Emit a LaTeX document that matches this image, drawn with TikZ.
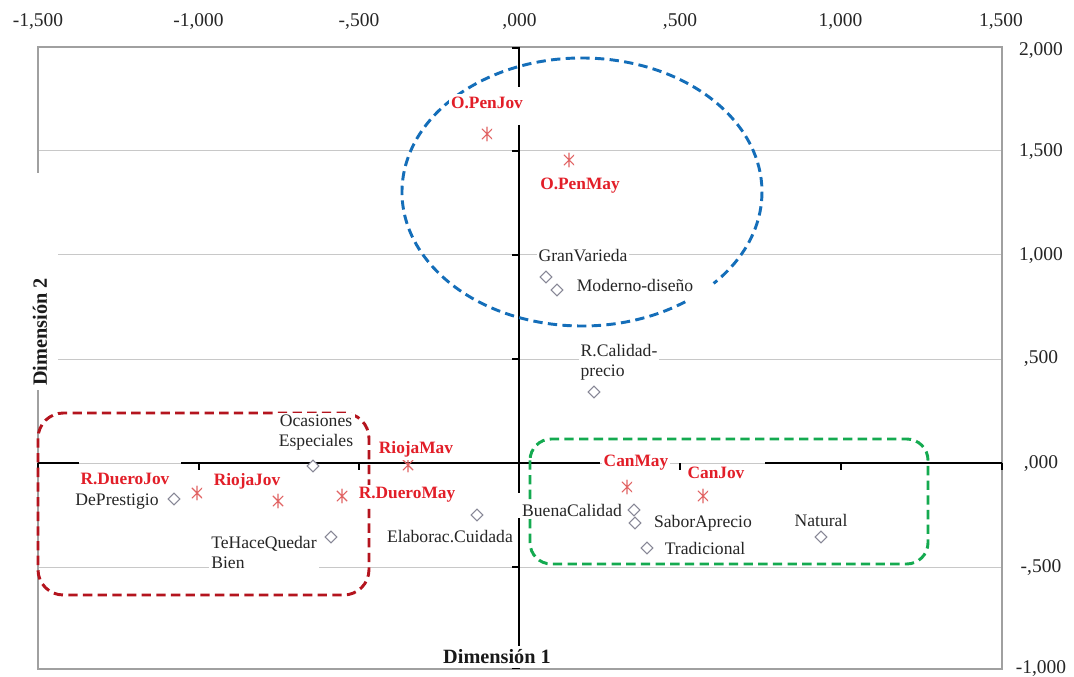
\documentclass[tikz,border=0pt]{standalone}
\usepackage{fontspec}
\setmainfont{Liberation Serif}
\usetikzlibrary{shapes.geometric}

\definecolor{gridgray}{RGB}{200,200,200}
\definecolor{framegray}{RGB}{160,160,160}
\definecolor{lblred}{RGB}{226,30,40}
\definecolor{starred}{RGB}{225,100,100}
\definecolor{diagray}{RGB}{135,135,150}
\definecolor{grpblue}{RGB}{20,110,185}
\definecolor{grpred}{RGB}{180,20,30}
\definecolor{grpgreen}{RGB}{20,170,80}

\tikzset{
  gridline/.style={draw=gridgray, line width=0.75pt},
  framebox/.style={draw=framegray, line width=1pt},
  axisline/.style={draw=black, line width=2pt},
  tickmark/.style={draw=black, line width=1.5pt},
  ticklbl/.style={font=\fontsize{14.6}{16}\selectfont, text=black!85, inner sep=0pt},
  lbl/.style={font=\fontsize{13.2}{15}\selectfont, text=black!85, fill=white,
              inner xsep=1.5pt, inner ysep=2pt},
  rlbl/.style={lbl, font=\fontsize{13}{15}\selectfont\bfseries, text=lblred},
  dimlbl/.style={font=\fontsize{15.2}{17}\selectfont\bfseries, text=black!90, fill=white,
                 inner xsep=2pt, inner ysep=3pt},
  grp/.style={line width=2.2pt, dash pattern=on 7pt off 4pt},
  starm/.style={circle, minimum size=11pt, inner sep=0pt,
    path picture={
      \draw[starred, line width=0.8pt]
        (path picture bounding box.north) -- (path picture bounding box.south)
        (path picture bounding box.north west) -- (path picture bounding box.south east)
        (path picture bounding box.north east) -- (path picture bounding box.south west);
    }},
  diam/.style={diamond, draw=diagray, line width=0.8pt, fill=white,
               minimum size=9pt, inner sep=0pt},
}

\begin{document}
\begin{tikzpicture}[x=0.75pt, y=-0.75pt]
  \useasboundingbox (0,0) rectangle (1074,677);
  \fill[white] (0,0) rectangle (1074,677);

  % horizontal grid lines and plot frame
  \foreach \yy in {151,255,359,463,567}
    \draw[gridline] (38,\yy) -- (1002,\yy);
  \draw[framebox] (38,47) rectangle (1002,669);

  % axes through the origin, broken where data labels sit on them
  \draw[axisline] (38,463) -- (79,463) (181,463) -- (600,463) (765,463) -- (1002,463);
  \draw[axisline] (519,47) -- (519,87) (519,125) -- (519,493) (519,518) -- (519,669);
  \foreach \xx in {38,198.5,359,680,840.5,1002}
    \draw[tickmark] (\xx,463) -- (\xx,470);
  \foreach \yy in {48,151,255,359,567,668}
    \draw[tickmark] (512,\yy) -- (519,\yy);

  % tick labels
  \node[ticklbl] (tx1) at (38,22) {-1,500};
  \node[ticklbl] (tx2) at (198.5,22) {-1,000};
  \node[ticklbl] (tx3) at (359,22) {-,500};
  \node[ticklbl] (tx4) at (519.5,22) {,000};
  \node[ticklbl] (tx5) at (680,22) {,500};
  \node[ticklbl] (tx6) at (840.5,22) {1,000};
  \node[ticklbl] (tx7) at (1001,22) {1,500};
  \node[ticklbl] (ty1) at (1041,51) {2,000};
  \node[ticklbl] (ty2) at (1041,152) {1,500};
  \node[ticklbl] (ty3) at (1041,256) {1,000};
  \node[ticklbl] (ty4) at (1041,359) {,500};
  \node[ticklbl] (ty5) at (1041,464) {,000};
  \node[ticklbl] (ty6) at (1041,568) {-,500};
  \node[ticklbl] (ty7) at (1041,669) {-1,000};

  % group outlines (the ellipse is left open at its lower right)
  \draw[grp, grpblue] (582,192) ++(55:180 and 134)
    arc[start angle=55, end angle=403, x radius=180, y radius=134];
  \draw[grp, grpred, rounded corners=19pt] (38,413) rectangle (369,595);
  \draw[grp, grpgreen, rounded corners=16pt] (530,439) rectangle (928,564);

  % segment points
  \node[starm] (s-openjov) at (487,134) {};
  \node[starm] (s-openmay) at (569,160) {};
  \node[starm] (s-riojamay) at (408,465) {};
  \node[starm] (s-rduerojov) at (197,493) {};
  \node[starm] (s-riojajov) at (278,501) {};
  \node[starm] (s-rdueromay) at (342,496) {};
  \node[starm] (s-canmay) at (627,487) {};
  \node[starm] (s-canjov) at (703,496) {};

  % attribute points
  \node[diam] (d-granvar) at (546,277) {};
  \node[diam] (d-moderno) at (557,290) {};
  \node[diam] (d-rcalidad) at (594,392) {};
  \node[diam] (d-ocasiones) at (313,466) {};
  \node[diam] (d-deprestigio) at (174,499) {};
  \node[diam] (d-tehace) at (331,537) {};
  \node[diam] (d-elaborac) at (477,515) {};
  \node[diam] (d-buena) at (634,510) {};
  \node[diam] (d-sabor) at (635,523) {};
  \node[diam] (d-tradicional) at (647,548) {};
  \node[diam] (d-natural) at (821,537) {};

  % attribute labels
  \node[lbl] (l-granvar) at (583,256) {GranVarieda};
  \node[lbl] (l-moderno) at (635,285) {Moderno-diseño};
  \node[lbl, align=left] (l-rcalidad) at (619,362) {R.Calidad-\\precio};
  \node[lbl, align=center] (l-ocasiones) at (316,433) {Ocasiones\\Especiales};
  \node[lbl] (l-deprestigio) at (117,502) {DePrestigio};
  \node[lbl, align=left] (l-tehace) at (264,552) {TeHaceQuedar\\Bien};
  \node[lbl] (l-elaborac) at (450,537) {Elaborac.Cuidada};
  \node[lbl] (l-buena) at (572,510) {BuenaCalidad};
  \node[lbl] (l-sabor) at (703,523) {SaborAprecio};
  \node[lbl] (l-tradicional) at (705,548) {Tradicional};
  \node[lbl] (l-natural) at (821,520) {Natural};

  % segment labels
  \node[rlbl] (l-openjov) at (487,103) {O.PenJov};
  \node[rlbl] (l-openmay) at (580,186) {O.PenMay};
  \node[rlbl] (l-riojamay) at (416,449) {RiojaMav};
  \node[rlbl] (l-rduerojov) at (125,479) {R.DueroJov};
  \node[rlbl] (l-riojajov) at (247,481) {RiojaJov};
  \node[rlbl] (l-rdueromay) at (407,495) {R.DueroMay};
  \node[rlbl] (l-canmay) at (636,463) {CanMay};
  \node[rlbl] (l-canjov) at (716,473) {CanJov};

  % axis titles
  \node[dimlbl] (dim1) at (497,657) {Dimensión 1};
  \fill[white] (26,173) rectangle (58,390);
  \node[dimlbl, rotate=90, fill=none] (dim2) at (40,332) {Dimensión 2};
\end{tikzpicture}
\end{document}
